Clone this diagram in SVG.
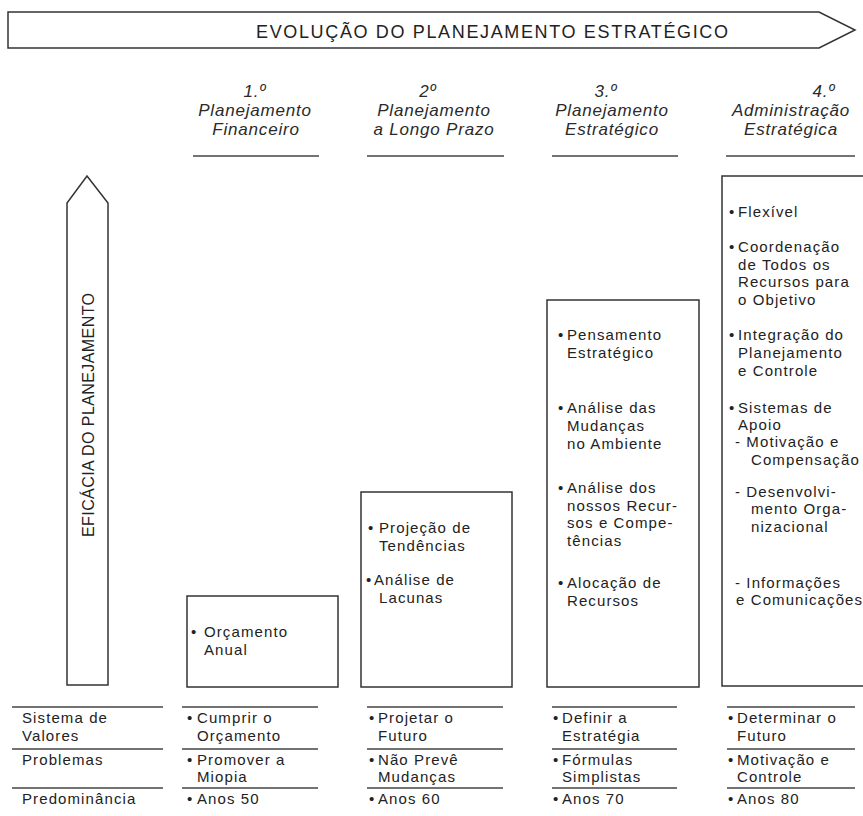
<svg xmlns="http://www.w3.org/2000/svg" width="863" height="816" viewBox="0 0 863 816">
<style>
.t{font-family:"Liberation Sans",Arial,sans-serif;font-size:15px;fill:#222;letter-spacing:1.1px}
.h{font-family:"Liberation Sans",Arial,sans-serif;font-size:17px;font-style:italic;fill:#2a2a2a;letter-spacing:0.8px;text-anchor:middle}
.cap{font-family:"Liberation Sans",Arial,sans-serif;fill:#222}
.shape{fill:#fff;stroke:#333;stroke-width:1.5;stroke-linejoin:miter}
.rule{stroke:#444;stroke-width:1.4;fill:none}
</style>
<rect width="863" height="816" fill="#fff"/>

<g id="title-arrow">
<polygon class="shape" points="8,12 819,12 855,30 819,48 8,48"/>
<text class="cap" x="256" y="38" font-size="18" textLength="472" lengthAdjust="spacing">EVOLUÇÃO DO PLANEJAMENTO ESTRATÉGICO</text>
</g>

<g id="axis-arrow">
<polygon class="shape" points="87,176 108,203 108,685 67,685 67,203"/>
<text class="cap" font-size="16" text-anchor="middle" textLength="244" lengthAdjust="spacing" transform="translate(94,415) rotate(-90)">EFICÁCIA DO PLANEJAMENTO</text>
</g>

<g id="header-1">
<text class="h" x="255" y="97">1.º</text>
<text class="h" x="255" y="116">Planejamento</text>
<text class="h" x="256" y="135">Financeiro</text>
</g>
<g id="header-2">
<text class="h" x="428" y="97">2º</text>
<text class="h" x="434" y="116">Planejamento</text>
<text class="h" x="434" y="135">a Longo Prazo</text>
</g>
<g id="header-3">
<text class="h" x="606" y="97">3.º</text>
<text class="h" x="612" y="116">Planejamento</text>
<text class="h" x="612" y="135">Estratégico</text>
</g>
<g id="header-4">
<text class="h" x="824" y="97">4.º</text>
<text class="h" x="791" y="116">Administração</text>
<text class="h" x="791" y="135">Estratégica</text>
</g>

<g id="box-1">
<rect class="shape" x="187" y="596" width="151" height="91"/>
<text class="t" y="637"><tspan x="191">•</tspan><tspan x="204">Orçamento</tspan></text>
<text class="t" x="204" y="655">Anual</text>
</g>

<g id="box-2">
<rect class="shape" x="361" y="492" width="151" height="195"/>
<text class="t" y="533"><tspan x="368">•</tspan><tspan x="379">Projeção de</tspan></text>
<text class="t" x="379" y="551">Tendências</text>
<text class="t" y="585"><tspan x="366">•</tspan><tspan x="374">Análise de</tspan></text>
<text class="t" x="379" y="603">Lacunas</text>
</g>

<g id="box-3">
<rect class="shape" x="547" y="300" width="152" height="387"/>
<text class="t" y="340"><tspan x="558">•</tspan><tspan x="567">Pensamento</tspan></text>
<text class="t" x="567" y="358">Estratégico</text>
<text class="t" y="413"><tspan x="558">•</tspan><tspan x="567">Análise das</tspan></text>
<text class="t" x="567" y="431">Mudanças</text>
<text class="t" x="567" y="449">no Ambiente</text>
<text class="t" y="493"><tspan x="558">•</tspan><tspan x="567">Análise dos</tspan></text>
<text class="t" x="567" y="511">nossos Recur-</text>
<text class="t" x="567" y="528">sos e Compe-</text>
<text class="t" x="567" y="546">tências</text>
<text class="t" y="588"><tspan x="558">•</tspan><tspan x="567">Alocação de</tspan></text>
<text class="t" x="567" y="606">Recursos</text>
</g>

<g id="box-4">
<rect class="shape" x="722" y="176" width="160" height="510"/>
<text class="t" y="217"><tspan x="729">•</tspan><tspan x="738">Flexível</tspan></text>
<text class="t" y="252"><tspan x="729">•</tspan><tspan x="738">Coordenação</tspan></text>
<text class="t" x="738" y="270">de Todos os</text>
<text class="t" x="738" y="287">Recursos para</text>
<text class="t" x="738" y="305">o Objetivo</text>
<text class="t" y="340"><tspan x="729">•</tspan><tspan x="738">Integração do</tspan></text>
<text class="t" x="738" y="358">Planejamento</text>
<text class="t" x="738" y="376">e Controle</text>
<text class="t" y="413"><tspan x="729">•</tspan><tspan x="738">Sistemas de</tspan></text>
<text class="t" x="738" y="430">Apoio</text>
<text class="t" x="735" y="447">- Motivação e</text>
<text class="t" x="751" y="465">Compensação</text>
<text class="t" x="735" y="497">- Desenvolvi-</text>
<text class="t" x="751" y="514">mento Orga-</text>
<text class="t" x="751" y="532">nizacional</text>
<text class="t" x="735" y="588">- Informações</text>
<text class="t" x="736" y="605">e Comunicações</text>
</g>

<g id="connectors">
<line class="rule" x1="193" y1="156" x2="319" y2="156"/>
<line class="rule" x1="367" y1="156" x2="504" y2="156"/>
<line class="rule" x1="552" y1="156" x2="678" y2="156"/>
<line class="rule" x1="726" y1="156" x2="855" y2="156"/>
<line class="rule" x1="12" y1="707" x2="163" y2="707"/>
<line class="rule" x1="182" y1="707" x2="318" y2="707"/>
<line class="rule" x1="367" y1="707" x2="503" y2="707"/>
<line class="rule" x1="552" y1="707" x2="677" y2="707"/>
<line class="rule" x1="727" y1="707" x2="855" y2="707"/>
<line class="rule" x1="12" y1="749" x2="163" y2="749"/>
<line class="rule" x1="182" y1="749" x2="318" y2="749"/>
<line class="rule" x1="367" y1="749" x2="503" y2="749"/>
<line class="rule" x1="552" y1="749" x2="677" y2="749"/>
<line class="rule" x1="727" y1="749" x2="855" y2="749"/>
<line class="rule" x1="12" y1="788" x2="163" y2="788"/>
<line class="rule" x1="182" y1="788" x2="318" y2="788"/>
<line class="rule" x1="367" y1="788" x2="503" y2="788"/>
<line class="rule" x1="552" y1="788" x2="677" y2="788"/>
<line class="rule" x1="727" y1="788" x2="855" y2="788"/>
</g>

<g id="row-labels">
<text class="t" x="22" y="723">Sistema de</text>
<text class="t" x="22" y="741">Valores</text>
<text class="t" x="22" y="765">Problemas</text>
<text class="t" x="22" y="804">Predominância</text>
</g>

<g id="table-col-1">
<text class="t" y="723"><tspan x="187">•</tspan><tspan x="197">Cumprir o</tspan></text>
<text class="t" x="197" y="741">Orçamento</text>
<text class="t" y="765"><tspan x="187">•</tspan><tspan x="197">Promover a</tspan></text>
<text class="t" x="197" y="782">Miopia</text>
<text class="t" y="804"><tspan x="187">•</tspan><tspan x="197">Anos 50</tspan></text>
</g>
<g id="table-col-2">
<text class="t" y="723"><tspan x="369">•</tspan><tspan x="378">Projetar o</tspan></text>
<text class="t" x="378" y="741">Futuro</text>
<text class="t" y="765"><tspan x="369">•</tspan><tspan x="378">Não Prevê</tspan></text>
<text class="t" x="378" y="782">Mudanças</text>
<text class="t" y="804"><tspan x="369">•</tspan><tspan x="378">Anos 60</tspan></text>
</g>
<g id="table-col-3">
<text class="t" y="723"><tspan x="553">•</tspan><tspan x="562">Definir a</tspan></text>
<text class="t" x="562" y="741">Estratégia</text>
<text class="t" y="765"><tspan x="553">•</tspan><tspan x="562">Fórmulas</tspan></text>
<text class="t" x="562" y="782">Simplistas</text>
<text class="t" y="804"><tspan x="553">•</tspan><tspan x="562">Anos 70</tspan></text>
</g>
<g id="table-col-4">
<text class="t" y="723"><tspan x="728">•</tspan><tspan x="737">Determinar o</tspan></text>
<text class="t" x="737" y="741">Futuro</text>
<text class="t" y="765"><tspan x="728">•</tspan><tspan x="737">Motivação e</tspan></text>
<text class="t" x="737" y="782">Controle</text>
<text class="t" y="804"><tspan x="728">•</tspan><tspan x="737">Anos 80</tspan></text>
</g>
</svg>
